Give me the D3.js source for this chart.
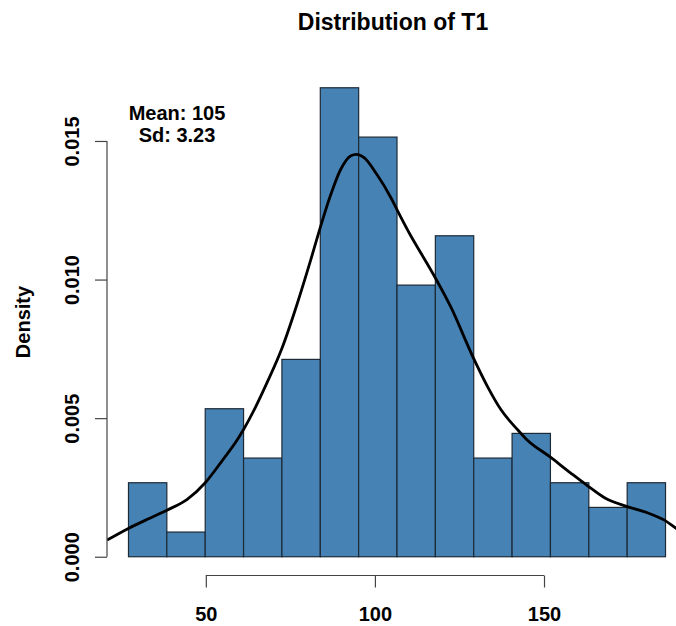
<!DOCTYPE html>
<html>
<head>
<meta charset="utf-8">
<script src="https://cdn.jsdelivr.net/npm/d3@7"></script>
<style>
  body { margin: 0; background: #fff; }
  svg text { font-family: "Liberation Sans", Arial, sans-serif; font-weight: bold; fill: #000; }
</style>
</head>
<body>
<div id="chart"></div>
<script>
// histogram breaks and densities
var breaks = [27.13, 38.47, 49.82, 61.16, 72.50, 83.85, 95.19, 106.53, 117.87, 129.22, 140.56, 151.90, 163.25, 174.59, 185.93];
var densities = [0.00267, 0.00089, 0.00534, 0.00356, 0.00712, 0.01692, 0.01514, 0.00980, 0.01158, 0.00356, 0.00445, 0.00267, 0.00178, 0.00267];

// kernel density line
var kdeX = [20.8, 27.1, 33.6, 38.5, 44.4, 49.9, 54.8, 59.2, 61.2, 64.7, 68.1, 72.6, 77.0, 81.0, 83.9, 86.9, 89.9, 92.8, 94.6, 96.8, 100.7, 104.7, 106.7, 110.6, 114.5, 118.0, 122.4, 128.9, 133.3, 137.3, 142.2, 144.7, 151.8, 158.0, 163.0, 167.9, 174.6, 180.7, 185.6, 189.4, 192.3];
var kdeY = [0.00060, 0.00102, 0.00140, 0.00168, 0.00206, 0.00268, 0.00346, 0.00420, 0.00460, 0.00540, 0.00628, 0.00755, 0.00912, 0.01070, 0.01190, 0.01305, 0.01398, 0.01446, 0.01452, 0.01440, 0.01377, 0.01296, 0.01248, 0.01158, 0.01077, 0.01003, 0.00902, 0.00723, 0.00614, 0.00530, 0.00458, 0.00425, 0.00360, 0.00301, 0.00255, 0.00213, 0.00181, 0.00158, 0.00132, 0.00100, 0.00080];

var xTicks = [50, 100, 150];
var yTicks = [0, 0.005, 0.010, 0.015];

var width = 676, height = 626;
var plotLeft = 107, plotRight = 687, plotTop = 69, plotBottom = 575.5;

var svg = d3.select("#chart").append("svg")
    .attr("width", width)
    .attr("height", height);

svg.append("rect")
    .attr("width", width)
    .attr("height", height)
    .attr("fill", "#fff");

// R style 4% padding on both axes
var xSpan = breaks[breaks.length - 1] - breaks[0];
var x = d3.scaleLinear()
    .domain([breaks[0] - 0.04 * xSpan, breaks[breaks.length - 1] + 0.04 * xSpan])
    .range([plotLeft, plotRight]);

var yMax = d3.max(densities);
var y = d3.scaleLinear()
    .domain([-0.04 * yMax, yMax * 1.04])
    .range([plotBottom, plotTop]);

svg.append("clipPath").attr("id", "plotClip")
    .append("rect")
    .attr("x", plotLeft)
    .attr("y", plotTop)
    .attr("width", plotRight - plotLeft)
    .attr("height", plotBottom - plotTop);

// bars
var bins = densities.map(function(d, i) { return { x0: breaks[i], x1: breaks[i + 1], d: d }; });
svg.append("g").selectAll("rect")
    .data(bins)
    .enter().append("rect")
    .attr("x", function(d) { return x(d.x0); })
    .attr("y", function(d) { return y(d.d); })
    .attr("width", function(d) { return x(d.x1) - x(d.x0); })
    .attr("height", function(d) { return y(0) - y(d.d); })
    .attr("fill", "#4682B4")
    .attr("stroke", "#1c2a36")
    .attr("stroke-width", 1.2);

// density curve
var line = d3.line()
    .x(function(d) { return x(d[0]); })
    .y(function(d) { return y(d[1]); })
    .curve(d3.curveMonotoneX);

svg.append("path")
    .datum(kdeX.map(function(v, i) { return [v, kdeY[i]]; }))
    .attr("clip-path", "url(#plotClip)")
    .attr("d", line)
    .attr("fill", "none")
    .attr("stroke", "#000")
    .attr("stroke-width", 2.8);

// x axis
var xAxis = svg.append("g")
    .attr("transform", "translate(0," + plotBottom + ")")
    .call(d3.axisBottom(x).tickValues(xTicks).tickSize(12).tickSizeOuter(0).tickPadding(19));
xAxis.select(".domain").attr("d", "M" + x(xTicks[0]) + ",0H" + x(xTicks[xTicks.length - 1]));
xAxis.selectAll("line, .domain").attr("stroke", "#444").attr("stroke-width", 1.2);
xAxis.selectAll("text").attr("font-size", 20).attr("font-family", null);

// y axis, labels rotated like R's default
var yAxis = svg.append("g")
    .attr("transform", "translate(" + plotLeft + ",0)")
    .call(d3.axisLeft(y).tickValues(yTicks).tickSize(12).tickSizeOuter(0).tickFormat(d3.format(".3f")));
yAxis.select(".domain").attr("d", "M0," + y(yTicks[0]) + "V" + y(yTicks[yTicks.length - 1]));
yAxis.selectAll("line, .domain").attr("stroke", "#444").attr("stroke-width", 1.2);
yAxis.selectAll(".tick text")
    .attr("font-size", 20)
    .attr("font-family", null)
    .attr("x", null).attr("dy", null)
    .attr("text-anchor", "middle")
    .attr("transform", "translate(-28,0) rotate(-90)");

// labels
svg.append("text")
    .attr("x", 393)
    .attr("y", 30)
    .attr("text-anchor", "middle")
    .attr("font-size", 23)
    .text("Distribution of T1");

svg.append("text")
    .attr("transform", "translate(30,322) rotate(-90)")
    .attr("text-anchor", "middle")
    .attr("font-size", 20)
    .text("Density");

svg.append("text")
    .attr("x", 177)
    .attr("y", 120)
    .attr("text-anchor", "middle")
    .attr("font-size", 20)
    .text("Mean: 105");

svg.append("text")
    .attr("x", 177)
    .attr("y", 141.5)
    .attr("text-anchor", "middle")
    .attr("font-size", 20)
    .text("Sd: 3.23");
</script>
</body>
</html>
